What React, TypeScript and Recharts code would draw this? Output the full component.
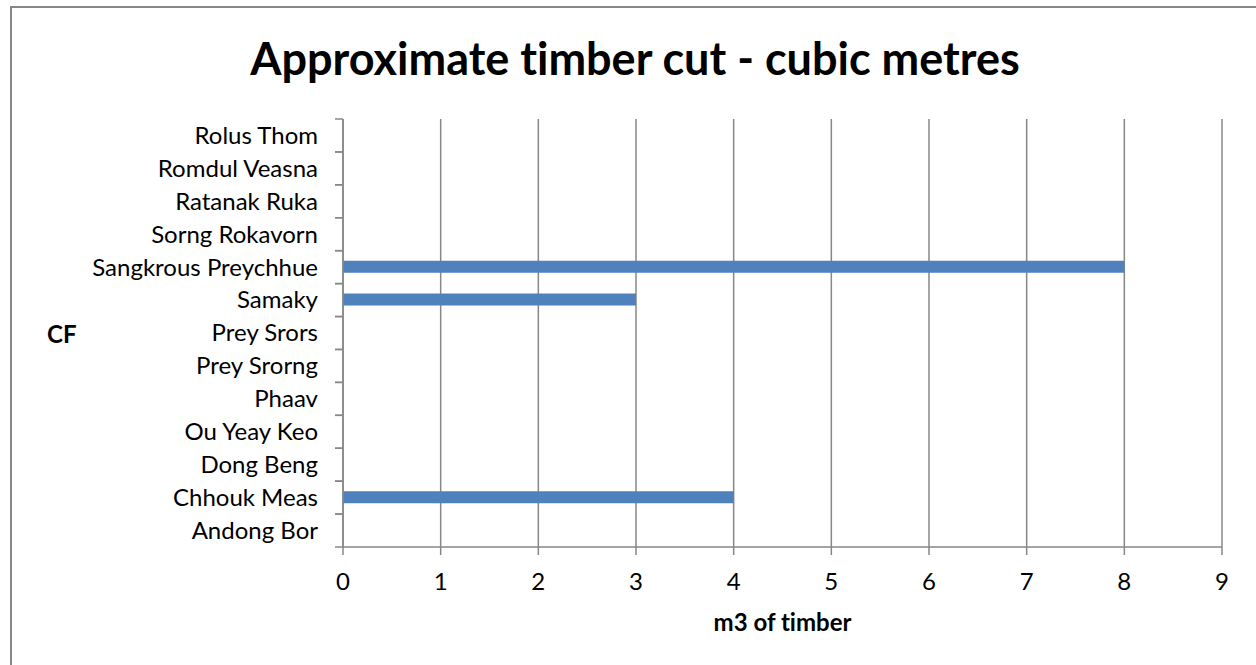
import { BarChart, Bar, XAxis, YAxis, CartesianGrid } from 'recharts'

const categories = [
  'Andong Bor',
  'Chhouk Meas',
  'Dong Beng',
  'Ou Yeay Keo',
  'Phaav',
  'Prey Srorng',
  'Prey Srors',
  'Samaky',
  'Sangkrous Preychhue',
  'Sorng Rokavorn',
  'Ratanak Ruka',
  'Romdul Veasna ',
  'Rolus Thom',
]
const timber: (number | null)[] = [null, 4, null, null, null, null, null, 3, 8, null, null, null, null]
const xTicks = [0, 1, 2, 3, 4, 5, 6, 7, 8, 9]

const W = 1256
const H = 665
const PLOT_LEFT = 343
const PLOT_TOP = 119
const PLOT_BOTTOM = 547
const PLOT_RIGHT = 1222
const X_AXIS_H = 50
const GRAY = '#878787'
const FONT = 'Lato, "Open Sans", sans-serif'
const noLig = { fontVariantLigatures: 'none' as const, fontFeatureSettings: '"liga" 0' }

const data = categories.map((name, i) => ({ name, value: timber[i] }))

function CatTick(props: any) {
  const { payload } = props
  const y = payload.coordinate
  const band = (PLOT_BOTTOM - PLOT_TOP) / categories.length
  return (
    <g>
      <line x1={PLOT_LEFT - 8} x2={PLOT_LEFT} y1={y - band / 2} y2={y - band / 2} stroke={GRAY} strokeWidth={1.5} />
      <line x1={PLOT_LEFT - 8} x2={PLOT_LEFT} y1={y + band / 2} y2={y + band / 2} stroke={GRAY} strokeWidth={1.5} />
      <text x={318} y={y} dy="0.35em" textAnchor="end" fill="#000" fontSize={24} fontFamily={FONT} style={noLig}>
        {payload.value}
      </text>
    </g>
  )
}

export default function App() {
  return (
    <div style={{ position: 'absolute', left: 0, top: 0, width: W, height: H, overflow: 'hidden', background: '#fff' }}>
      <div
        style={{
          position: 'absolute',
          left: 10,
          top: 6,
          width: W + 20,
          height: H + 20,
          border: `2px solid ${GRAY}`,
        }}
      />
      <div
        style={{
          position: 'absolute',
          left: 0,
          width: W,
          top: 30,
          textAlign: 'center',
          paddingLeft: 14,
          boxSizing: 'border-box',
          fontFamily: FONT,
          fontWeight: 700,
          fontSize: 45,
          lineHeight: '56px',
          ...noLig,
        }}
      >
        Approximate timber cut - cubic metres
      </div>
      <div style={{ position: 'absolute', left: 47, top: 319, fontFamily: FONT, fontWeight: 700, fontSize: 24, ...noLig }}>CF</div>
      <div
        style={{
          position: 'absolute',
          left: PLOT_LEFT,
          width: PLOT_RIGHT - PLOT_LEFT,
          top: 607,
          textAlign: 'center',
          fontFamily: FONT,
          fontWeight: 700,
          fontSize: 24,
          ...noLig,
        }}
      >
        m3 of timber
      </div>
      <div style={{ position: 'absolute', left: 0, top: 0 }}>
        <BarChart
          width={W}
          height={H}
          data={data}
          layout="vertical"
          margin={{ top: PLOT_TOP, right: W - PLOT_RIGHT, bottom: H - PLOT_BOTTOM - X_AXIS_H, left: 0 }}
        >
          <CartesianGrid horizontal={false} stroke={GRAY} strokeWidth={1.5} />
          <XAxis
            type="number"
            domain={[0, 9]}
            ticks={xTicks}
            interval={0}
            height={X_AXIS_H}
            tickSize={8}
            tickMargin={18}
            axisLine={{ stroke: GRAY, strokeWidth: 1.5 }}
            tickLine={{ stroke: GRAY, strokeWidth: 1.5 }}
            tick={{ fill: '#000', fontSize: 24, fontFamily: FONT }}
          />
          <YAxis
            type="category"
            dataKey="name"
            reversed
            width={PLOT_LEFT}
            interval={0}
            tickLine={false}
            axisLine={{ stroke: GRAY, strokeWidth: 1.5 }}
            tick={<CatTick />}
          />
          <Bar dataKey="value" fill="#4F81BD" barSize={12} isAnimationActive={false} />
        </BarChart>
      </div>
    </div>
  )
}
